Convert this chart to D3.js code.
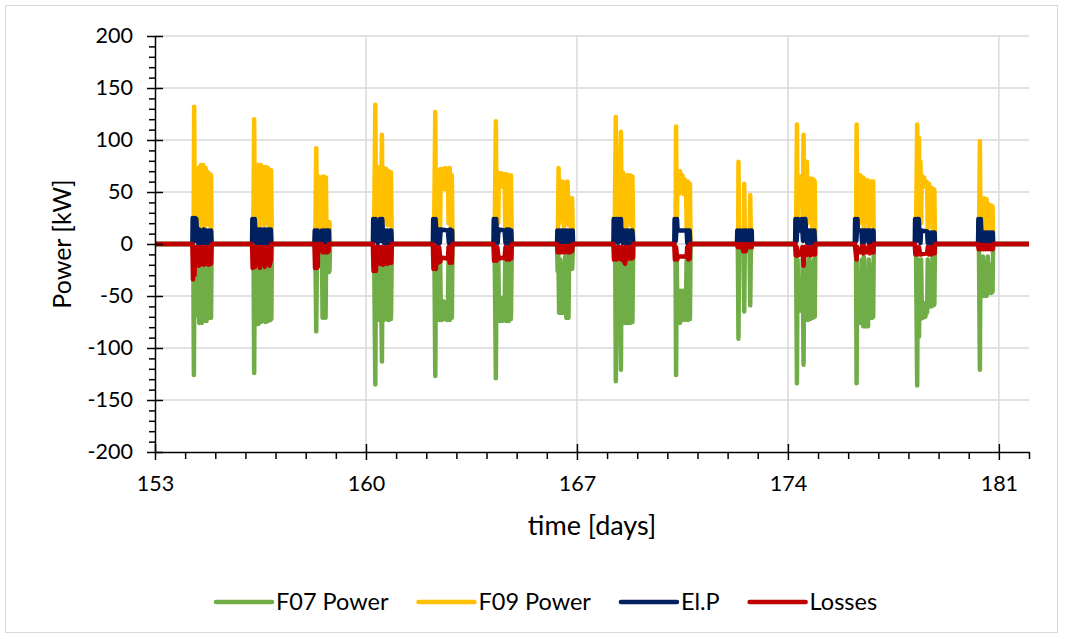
<!DOCTYPE html>
<html><head><meta charset="utf-8">
<script src="https://cdn.jsdelivr.net/npm/d3@7"></script>
<style>body{margin:0;background:#fff}svg{display:block}</style>
</head><body><svg id="c" width="1070" height="639"></svg>
<script>
const yTicks = [-200,-150,-100,-50,0,50,100,150,200];
const xTicks = [153,160,167,174,181];
const seriesNames = ["F07 Power","F09 Power","El.P","Losses"];
const seriesColors = ["#70AD47","#FFC000","#002060","#C00000"];

// [day, kW]
const F07 = [[153,0],
[154.24,0],[154.27,-5],[154.29,-126],[154.31,-15],[154.34,-69],[154.38,-20],[154.41,-47],[154.44,-25],[154.47,-76],[154.51,-15],[154.55,-76],[154.59,-20],[154.63,-74],[154.67,-12],[154.71,-74],[154.75,-20],[154.79,-71],[154.83,-15],[154.86,-71],[154.88,0],
[156.22,0],[156.27,-5],[156.29,-124],[156.31,-15],[156.35,-77],[156.39,-20],[156.43,-77],[156.47,-12],[156.51,-75],[156.55,-20],[156.59,-74],[156.63,-15],[156.67,-75],[156.71,-20],[156.75,-74],[156.79,-12],[156.83,-73],[156.86,-72],[156.88,0],
[158.28,0],[158.32,-5],[158.35,-84],[158.37,-20],[158.40,-5],[158.54,-3],[158.56,-71],[158.58,-15],[158.61,-70],[158.63,-20],[158.66,-71],[158.68,-10],[158.71,-27],[158.74,-8],[158.77,-27],[158.79,-25],[158.81,0],
[160.23,0],[160.27,-5],[160.31,-135],[160.33,-15],[160.37,-73],[160.41,-20],[160.45,-73],[160.49,-12],[160.53,-113],[160.55,-15],[160.59,-73],[160.63,-20],[160.67,-72],[160.71,-12],[160.75,-73],[160.79,-20],[160.83,-72],[160.86,0],
[162.22,0],[162.27,-5],[162.30,-127],[162.32,-15],[162.36,-73],[162.40,-20],[162.44,-73],[162.46,-12],[162.48,-56],[162.52,-73],[162.56,-55],[162.60,-72],[162.64,-56],[162.68,-73],[162.72,-56],[162.74,-15],[162.78,-73],[162.82,-12],[162.85,-71],[162.87,0],
[164.23,0],[164.27,-5],[164.31,-129],[164.33,-15],[164.37,-74],[164.39,-12],[164.41,-55],[164.45,-74],[164.49,-52],[164.53,-74],[164.57,-55],[164.60,-70],[164.62,-15],[164.66,-74],[164.70,-20],[164.74,-74],[164.78,-12],[164.81,-72],[164.84,0],
[166.34,0],[166.36,-26],[166.38,-5],[166.41,-66],[166.45,-15],[166.49,-66],[166.53,-20],[166.57,-66],[166.61,-12],[166.65,-71],[166.69,-20],[166.72,-71],[166.74,-10],[166.77,-24],[166.81,-8],[166.84,-24],[166.87,0],
[168.21,0],[168.27,-5],[168.29,-132],[168.31,-15],[168.35,-56],[168.39,-12],[168.43,-56],[168.46,-121],[168.48,-15],[168.52,-56],[168.56,-20],[168.60,-76],[168.64,-12],[168.68,-76],[168.72,-20],[168.76,-76],[168.80,-12],[168.84,-75],[168.87,0],
[170.23,0],[170.27,-5],[170.29,-126],[170.31,-15],[170.34,-76],[170.38,-45],[170.42,-76],[170.46,-45],[170.50,-73],[170.54,-45],[170.58,-73],[170.62,-50],[170.64,-15],[170.68,-73],[170.72,-20],[170.75,-72],[170.77,0],
[172.31,0],[172.34,-5],[172.36,-91],[172.38,-8],[172.42,0],[172.51,0],[172.53,-5],[172.55,-65],[172.57,-8],[172.61,0],[172.70,0],[172.73,-5],[172.75,-59],[172.77,-8],[172.81,0],
[174.24,0],[174.27,-5],[174.30,-134],[174.32,-15],[174.35,-62],[174.39,-57],[174.43,-64],[174.47,-57],[174.49,-15],[174.52,-116],[174.54,-15],[174.58,-72],[174.62,-20],[174.66,-73],[174.70,-12],[174.74,-72],[174.78,-20],[174.82,-71],[174.86,-15],[174.89,-70],[174.91,0],
[176.22,0],[176.26,-5],[176.28,-134],[176.30,-15],[176.32,-68],[176.36,-76],[176.40,-67],[176.44,-76],[176.46,-15],[176.50,-79],[176.52,-12],[176.55,-68],[176.59,-79],[176.63,-68],[176.66,-79],[176.68,-15],[176.72,-71],[176.76,-20],[176.80,-71],[176.83,-70],[176.85,0],
[178.21,0],[178.25,-5],[178.29,-136],[178.31,-15],[178.35,-89],[178.37,-20],[178.40,-72],[178.42,-15],[178.44,-57],[178.48,-71],[178.52,-57],[178.56,-70],[178.60,-57],[178.62,-66],[178.64,-15],[178.68,-60],[178.72,-20],[178.76,-60],[178.80,-12],[178.83,-59],[178.86,-58],[178.88,0],
[180.31,0],[180.34,-5],[180.37,-121],[180.39,-15],[180.43,-50],[180.47,-12],[180.51,-50],[180.55,-20],[180.59,-50],[180.63,-12],[180.67,-47],[180.71,-20],[180.75,-47],[180.79,-46],[180.81,0],
[182,0]];

const F09 = [[153,0],
[154.24,0],[154.28,4],[154.30,132],[154.32,18],[154.36,70],[154.40,30],[154.44,73],[154.48,15],[154.52,76],[154.56,22],[154.60,76],[154.64,15],[154.68,73],[154.72,20],[154.76,69],[154.80,18],[154.84,67],[154.86,66],[154.88,0],
[156.22,0],[156.26,5],[156.29,120],[156.31,20],[156.35,74],[156.39,25],[156.43,76],[156.47,15],[156.51,76],[156.55,25],[156.59,74],[156.63,18],[156.67,74],[156.71,22],[156.75,73],[156.79,15],[156.83,71],[156.85,71],[156.88,0],
[158.28,0],[158.32,10],[158.35,92],[158.37,30],[158.40,12],[158.43,65],[158.47,20],[158.51,64],[158.55,15],[158.59,65],[158.63,25],[158.67,64],[158.69,12],[158.72,21],[158.76,8],[158.79,21],[158.81,0],
[160.23,0],[160.27,8],[160.31,134],[160.33,20],[160.37,72],[160.41,25],[160.45,74],[160.49,15],[160.53,105],[160.55,20],[160.59,73],[160.63,25],[160.67,72],[160.71,18],[160.75,70],[160.79,22],[160.83,69],[160.86,0],
[162.22,0],[162.26,6],[162.30,127],[162.32,20],[162.36,71],[162.40,25],[162.44,71],[162.46,15],[162.48,72],[162.52,54],[162.56,72],[162.60,53],[162.64,73],[162.68,54],[162.72,72],[162.74,20],[162.78,73],[162.82,15],[162.85,66],[162.87,0],
[164.23,0],[164.27,6],[164.31,118],[164.33,20],[164.37,69],[164.39,20],[164.41,68],[164.45,55],[164.49,68],[164.53,55],[164.57,67],[164.60,67],[164.62,15],[164.66,67],[164.70,20],[164.74,66],[164.78,12],[164.81,66],[164.84,0],
[166.34,0],[166.37,10],[166.39,73],[166.41,20],[166.45,60],[166.49,25],[166.53,60],[166.57,15],[166.61,59],[166.65,20],[166.69,60],[166.73,18],[166.77,44],[166.81,15],[166.84,44],[166.87,0],
[168.21,0],[168.25,6],[168.29,122],[168.31,20],[168.35,70],[168.39,25],[168.43,72],[168.46,108],[168.48,20],[168.52,69],[168.56,25],[168.60,66],[168.64,15],[168.68,66],[168.72,22],[168.76,66],[168.80,18],[168.84,65],[168.87,0],
[170.23,0],[170.27,6],[170.29,113],[170.31,15],[170.34,62],[170.38,48],[170.42,70],[170.46,50],[170.50,66],[170.54,48],[170.58,62],[170.62,60],[170.64,15],[170.68,60],[170.72,20],[170.75,58],[170.77,0],
[172.31,0],[172.35,5],[172.36,79],[172.38,8],[172.42,0],[172.51,0],[172.54,6],[172.55,58],[172.57,8],[172.61,0],[172.70,0],[172.73,6],[172.75,47],[172.77,8],[172.81,0],
[174.24,0],[174.27,6],[174.30,115],[174.32,20],[174.35,64],[174.39,55],[174.43,65],[174.47,55],[174.49,20],[174.52,105],[174.54,20],[174.58,70],[174.61,25],[174.63,79],[174.65,20],[174.69,63],[174.73,25],[174.77,63],[174.81,15],[174.85,62],[174.89,60],[174.91,0],
[176.22,0],[176.26,6],[176.28,115],[176.30,15],[176.32,66],[176.36,52],[176.40,66],[176.44,64],[176.46,20],[176.50,64],[176.52,15],[176.55,62],[176.59,52],[176.63,61],[176.66,61],[176.68,15],[176.72,60],[176.76,20],[176.80,60],[176.83,60],[176.85,0],
[178.21,0],[178.25,6],[178.29,115],[178.31,20],[178.35,102],[178.37,25],[178.40,79],[178.42,20],[178.44,66],[178.48,55],[178.52,64],[178.56,55],[178.60,60],[178.62,59],[178.64,15],[178.68,58],[178.72,22],[178.76,54],[178.80,15],[178.83,53],[178.86,52],[178.88,0],
[180.31,0],[180.34,6],[180.37,99],[180.39,15],[180.43,44],[180.47,20],[180.51,44],[180.55,12],[180.59,43],[180.63,18],[180.67,38],[180.71,12],[180.75,37],[180.79,36],[180.81,0],
[182,0]];

const ELP = [[153,0],
[154.24,0],[154.25,25],[154.29,3],[154.33,25],[154.37,24],[154.39,13],[154.42,1],[154.46,14],[154.50,1],[154.54,13],[154.58,1],[154.62,14],[154.66,1],[154.70,13],[154.74,1],[154.78,13],[154.82,1],[154.86,13],[154.88,0],
[156.22,0],[156.23,24],[156.27,3],[156.31,24],[156.33,14],[156.36,1],[156.40,14],[156.44,1],[156.48,14],[156.52,1],[156.56,14],[156.60,1],[156.64,14],[156.68,1],[156.72,14],[156.76,1],[156.80,14],[156.84,14],[156.86,0],
[158.29,0],[158.30,13],[158.33,1],[158.36,13],[158.40,13],[158.41,0],[158.53,0],[158.54,13],[158.58,1],[158.62,13],[158.66,1],[158.70,13],[158.74,1],[158.77,13],[158.78,0],
[160.23,0],[160.24,24],[160.28,3],[160.32,24],[160.35,13],[160.39,1],[160.43,13],[160.47,24],[160.50,3],[160.54,24],[160.56,13],[160.60,1],[160.64,13],[160.68,1],[160.72,13],[160.76,1],[160.80,13],[160.84,13],[160.86,0],
[162.22,0],[162.23,24],[162.27,3],[162.31,24],[162.33,14],[162.37,1],[162.41,14],[162.45,1],[162.48,14],[162.72,13],[162.75,1],[162.79,14],[162.83,1],[162.86,13],[162.87,0],
[164.23,0],[164.24,24],[164.28,3],[164.32,24],[164.34,14],[164.37,1],[164.40,14],[164.60,13],[164.63,1],[164.67,14],[164.71,1],[164.75,14],[164.79,1],[164.82,13],[164.84,0],
[166.34,0],[166.35,13],[166.39,1],[166.43,13],[166.47,1],[166.51,13],[166.55,1],[166.59,13],[166.63,1],[166.67,13],[166.71,1],[166.75,13],[166.79,1],[166.83,13],[166.86,13],[166.87,0],
[168.21,0],[168.22,24],[168.26,3],[168.30,24],[168.33,13],[168.36,1],[168.38,24],[168.42,3],[168.46,24],[168.48,13],[168.52,1],[168.56,13],[168.60,1],[168.64,13],[168.68,1],[168.72,13],[168.76,1],[168.80,13],[168.84,13],[168.87,0],
[170.23,0],[170.24,24],[170.28,3],[170.32,24],[170.34,13],[170.64,13],[170.66,1],[170.70,13],[170.74,13],[170.76,0],
[172.31,0],[172.32,13],[172.36,1],[172.40,13],[172.42,0],[172.47,0],[172.48,13],[172.52,1],[172.56,13],[172.60,13],[172.61,0],[172.67,0],[172.68,13],[172.72,1],[172.76,13],[172.80,13],[172.81,0],
[174.24,0],[174.25,24],[174.29,3],[174.33,24],[174.35,13],[174.45,13],[174.46,24],[174.50,3],[174.54,24],[174.58,24],[174.60,13],[174.64,1],[174.68,13],[174.72,1],[174.76,13],[174.80,1],[174.84,13],[174.88,13],[174.90,0],
[176.22,0],[176.23,24],[176.27,3],[176.31,24],[176.32,13],[176.44,13],[176.46,1],[176.50,13],[176.52,1],[176.55,13],[176.66,13],[176.68,1],[176.72,13],[176.76,1],[176.80,13],[176.84,13],[176.85,0],
[178.21,0],[178.22,24],[178.26,3],[178.30,24],[178.34,24],[178.36,13],[178.40,1],[178.42,13],[178.62,12],[178.64,1],[178.68,11],[178.72,1],[178.76,11],[178.80,1],[178.84,11],[178.87,11],[178.88,0],
[180.31,0],[180.32,24],[180.36,3],[180.40,24],[180.42,11],[180.46,1],[180.50,11],[180.54,1],[180.58,11],[180.62,1],[180.66,11],[180.70,1],[180.74,11],[180.78,1],[180.80,11],[180.81,0],
[182,0]];

const LOSSES = [[153,0],
[154.24,0],[154.26,-34],[154.28,-5],[154.31,-30],[154.34,-3],[154.38,-20],[154.42,-3],[154.46,-21],[154.50,-3],[154.54,-19],[154.58,-3],[154.62,-20],[154.66,-3],[154.70,-19],[154.74,-3],[154.78,-20],[154.82,-3],[154.86,-19],[154.88,0],
[156.22,0],[156.24,-23],[156.28,-3],[156.32,-22],[156.36,-3],[156.40,-18],[156.44,-3],[156.48,-23],[156.52,-3],[156.56,-17],[156.60,-3],[156.64,-22],[156.68,-3],[156.72,-16],[156.76,-3],[156.80,-21],[156.84,-16],[156.86,0],
[158.29,0],[158.31,-23],[158.34,-3],[158.37,-23],[158.40,-22],[158.41,0],[158.54,0],[158.56,-8],[158.60,-2],[158.64,-8],[158.68,-2],[158.72,-8],[158.76,-7],[158.77,0],
[160.23,0],[160.25,-26],[160.29,-3],[160.33,-26],[160.36,-3],[160.40,-19],[160.44,-3],[160.48,-19],[160.52,-3],[160.56,-20],[160.60,-3],[160.64,-19],[160.68,-3],[160.72,-19],[160.76,-3],[160.80,-18],[160.84,-18],[160.86,0],
[162.22,0],[162.24,-24],[162.28,-3],[162.32,-24],[162.35,-3],[162.39,-18],[162.43,-3],[162.47,-17],[162.48,-13],[162.72,-14],[162.74,-3],[162.78,-18],[162.82,-3],[162.85,-18],[162.87,0],
[164.23,0],[164.25,-16],[164.29,-3],[164.33,-16],[164.36,-3],[164.40,-14],[164.60,-13],[164.63,-3],[164.67,-15],[164.71,-3],[164.75,-15],[164.79,-3],[164.82,-14],[164.84,0],
[166.34,0],[166.36,-8],[166.40,-2],[166.44,-8],[166.48,-2],[166.52,-8],[166.56,-2],[166.60,-8],[166.64,-2],[166.68,-8],[166.72,-2],[166.76,-8],[166.80,-2],[166.84,-7],[166.86,0],
[168.21,0],[168.23,-15],[168.27,-3],[168.31,-15],[168.35,-3],[168.39,-14],[168.43,-3],[168.47,-15],[168.51,-3],[168.55,-16],[168.60,-19],[168.62,-3],[168.66,-15],[168.70,-3],[168.74,-14],[168.78,-3],[168.82,-14],[168.86,-13],[168.87,0],
[170.23,0],[170.25,-15],[170.29,-3],[170.33,-15],[170.35,-12],[170.64,-12],[170.66,-3],[170.70,-15],[170.74,-14],[170.76,0],
[172.31,0],[172.34,-3],[172.38,-1],[172.41,-3],[172.42,0],[172.48,0],[172.52,-7],[172.56,-2],[172.60,-7],[172.61,0],[172.68,0],[172.72,-3],[172.76,-1],[172.80,-3],[172.81,0],
[174.24,0],[174.26,-11],[174.30,-3],[174.34,-11],[174.36,-10],[174.45,-10],[174.48,-3],[174.52,-21],[174.55,-3],[174.59,-11],[174.63,-3],[174.67,-10],[174.71,-3],[174.75,-11],[174.79,-3],[174.83,-10],[174.87,-3],[174.90,-10],[174.91,0],
[176.22,0],[176.25,-8],[176.28,-15],[176.30,-3],[176.32,-8],[176.44,-8],[176.46,-2],[176.50,-9],[176.52,-2],[176.55,-8],[176.66,-8],[176.68,-2],[176.72,-9],[176.76,-2],[176.80,-8],[176.84,-8],[176.85,0],
[178.21,0],[178.23,-10],[178.27,-3],[178.31,-10],[178.35,-3],[178.39,-10],[178.42,-10],[178.62,-9],[178.64,-3],[178.68,-10],[178.72,-3],[178.76,-10],[178.80,-3],[178.84,-9],[178.87,-9],[178.88,0],
[180.31,0],[180.33,-5],[180.37,-1],[180.41,-5],[180.45,-1],[180.49,-5],[180.53,-1],[180.57,-5],[180.61,-1],[180.65,-5],[180.69,-1],[180.73,-5],[180.77,-1],[180.80,-5],[180.81,0],
[182,0]];

const seriesData = [F07, F09, ELP, LOSSES];

const FONT = "Lato, 'Open Sans', sans-serif";
const svg = d3.select("#c");
const P = {l:155, r:1029, t:36, b:452};
const x = d3.scaleLinear().domain([153,182]).range([P.l,P.r]);
const y = d3.scaleLinear().domain([-200,200]).range([P.b,P.t]);
const plain = d => String(d);

svg.append("rect").attr("x",5.5).attr("y",5.5).attr("width",1052).attr("height",627)
  .attr("fill","#fff").attr("stroke","#d9d9d9").attr("stroke-width",1);

// gridlines
const grid = svg.append("g").attr("stroke","#d9d9d9").attr("stroke-width",1.5);
grid.selectAll("line.h").data(yTicks.filter(v=>v>-200)).join("line")
  .attr("x1",P.l).attr("x2",P.r).attr("y1",d=>y(d)).attr("y2",d=>y(d));
grid.selectAll("line.v").data(xTicks.filter(v=>v>153)).join("line")
  .attr("y1",P.t).attr("y2",P.b).attr("x1",d=>x(d)).attr("x2",d=>x(d));

// series lines
const line = d3.line().x(d=>x(d[0])).y(d=>y(d[1]));
svg.append("g").selectAll("path").data(seriesData).join("path")
  .attr("d",line).attr("fill","none")
  .attr("stroke",(d,i)=>seriesColors[i]).attr("stroke-width",4.5)
  .attr("stroke-linejoin","round").attr("stroke-linecap","butt");

// y axis minor ticks
const minorY = d3.range(-200,201,10).filter(v=>v%50!==0);
svg.append("g").attr("transform",`translate(${P.l},0)`)
  .call(d3.axisLeft(y).tickValues(minorY).tickSize(6).tickFormat(""))
  .call(g=>g.select(".domain").remove())
  .selectAll("line").attr("stroke","#000").attr("stroke-width",1.5);
// y axis major
const yAx = svg.append("g").attr("transform",`translate(${P.l},0)`)
  .call(d3.axisLeft(y).tickValues(yTicks).tickFormat(plain).tickSize(8).tickSizeOuter(0).tickPadding(14));
yAx.select(".domain").attr("stroke","#000").attr("stroke-width",1.5);
yAx.selectAll(".tick line").attr("x1",8).attr("stroke","#000").attr("stroke-width",1.5);
yAx.selectAll(".tick text").attr("font-family",FONT).attr("font-size",21.5).attr("fill","#000");

// x axis minor
const minorX = d3.range(154,183,1).filter(v=>(v-153)%7!==0);
svg.append("g").attr("transform",`translate(0,${P.b})`)
  .call(d3.axisBottom(x).tickValues(minorX).tickSize(7).tickFormat(""))
  .call(g=>g.select(".domain").remove())
  .selectAll("line").attr("stroke","#000").attr("stroke-width",1.5);
const xAx = svg.append("g").attr("transform",`translate(0,${P.b})`)
  .call(d3.axisBottom(x).tickValues(xTicks).tickFormat(plain).tickSize(8).tickSizeOuter(0).tickPadding(16));
xAx.select(".domain").attr("stroke","#000").attr("stroke-width",1.5);
xAx.selectAll(".tick line").attr("y1",-8).attr("stroke","#000").attr("stroke-width",1.5);
xAx.selectAll(".tick text").attr("font-family",FONT).attr("font-size",21.5).attr("fill","#000");

// titles
svg.append("text").attr("x",(P.l+P.r)/2).attr("y",535).attr("text-anchor","middle")
  .attr("font-family",FONT).attr("font-size",27).attr("fill","#000").text("time [days]");
svg.append("text").attr("transform",`translate(71,${(P.t+P.b)/2}) rotate(-90)`).attr("text-anchor","middle")
  .attr("font-family",FONT).attr("font-size",25).attr("fill","#000").text("Power [kW]");

// legend
const lg = svg.append("g");
let lx = 216; const ly = 602; const L = 56;
seriesNames.forEach((nm,i)=>{
  lg.append("line").attr("x1",lx).attr("x2",lx+L).attr("y1",ly).attr("y2",ly)
    .attr("stroke",seriesColors[i]).attr("stroke-width",4.5).attr("stroke-linecap","round");
  const t = lg.append("text").attr("x",lx+L+4).attr("y",ly+8).attr("font-family",FONT)
    .attr("font-size",23.5).attr("fill","#000").text(nm);
  lx += L + 4 + t.node().getComputedTextLength() + 30;
});
</script></body></html>
